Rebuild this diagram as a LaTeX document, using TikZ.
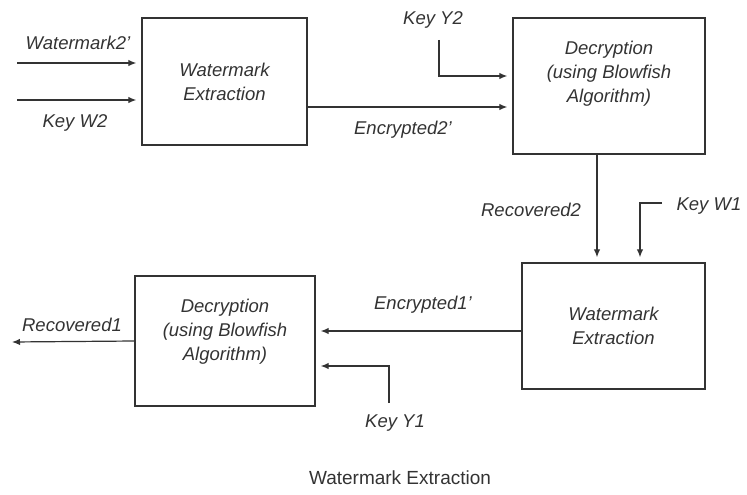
\documentclass[tikz,border=0pt]{standalone}
\usepackage{fontspec}
\setmainfont{Liberation Sans}
\usetikzlibrary{arrows.meta}
\definecolor{ink}{HTML}{333333}

\begin{document}
\begin{tikzpicture}[x=1pt,y=-1pt,>={Latex[length=8pt,width=6.5pt]},
  line width=1.2pt,
  blk/.style={draw=ink,line width=1.4pt,align=center,text=ink,font=\fontsize{18.5}{24}\selectfont\itshape,inner sep=0pt},
  lbl/.style={text=ink,font=\fontsize{18.5}{22}\selectfont\itshape,inner sep=0pt},
  flow/.style={->,draw=ink,shorten >=5pt}]
\useasboundingbox (0,0) rectangle (747,495);
% blocks
\node[blk,minimum width=165pt,minimum height=127pt] (wmx2) at (224.5,81.5) {Watermark\\Extraction};
\node[blk,minimum width=192pt,minimum height=136pt,text depth=28pt] (dec2) at (609,86) {Decryption\\(using Blowfish\\Algorithm)};
\node[blk,minimum width=183pt,minimum height=126pt] (wmx1) at (613.5,326) {Watermark\\Extraction};
\node[blk,minimum width=180pt,minimum height=130pt,text depth=22pt] (dec1) at (225,341) {Decryption\\(using Blowfish\\Algorithm)};
% inputs
\coordinate (wm2in) at (17,63);
\coordinate (kw2in) at (17,100);
\coordinate (ky2in) at (439,40);
\coordinate (kw1in) at (662,203);
\coordinate (ky1in) at (389,403);
\coordinate (rec1out) at (12,342);
\draw[flow] (wm2in) -- (wmx2.west |- wm2in);
\draw[flow] (kw2in) -- (wmx2.west |- kw2in);
\draw[flow] (wmx2.east |- 0,107) -- (dec2.west |- 0,107);
\draw[flow] (ky2in) |- (dec2.west |- 0,76);
\draw[flow] ([xshift=-12pt]dec2.south) -- ([xshift=-16.5pt]wmx1.north);
\draw[flow] (kw1in) -| ([xshift=26.5pt]wmx1.north);
\draw[flow] (wmx1.west |- 0,331) -- (dec1.east |- 0,331);
\draw[flow] (ky1in) |- (dec1.east |- 0,366);
\draw[->,draw=ink] (dec1.west) -- (rec1out);
% labels
\node[lbl] (lwm2) at (78,43) {Watermark2’};
\node[lbl] (lkw2) at (75,123) {Key W2};
\node[lbl] (lenc2) at (403,130) {Encrypted2’};
\node[lbl] (lky2) at (433,20) {Key Y2};
\node[lbl] (lrec2) at (531,210) {Recovered2};
\node[lbl] (lkw1) at (709,206) {Key W1};
\node[lbl] (lenc1) at (423,305) {Encrypted1’};
\node[lbl] (lky1) at (395,423) {Key Y1};
\node[lbl] (lrec1) at (72,325) {Recovered1};
\node[text=ink,font=\fontsize{19}{22}\selectfont,inner sep=0pt] (cap) at (400,478) {Watermark Extraction};
\end{tikzpicture}
\end{document}
